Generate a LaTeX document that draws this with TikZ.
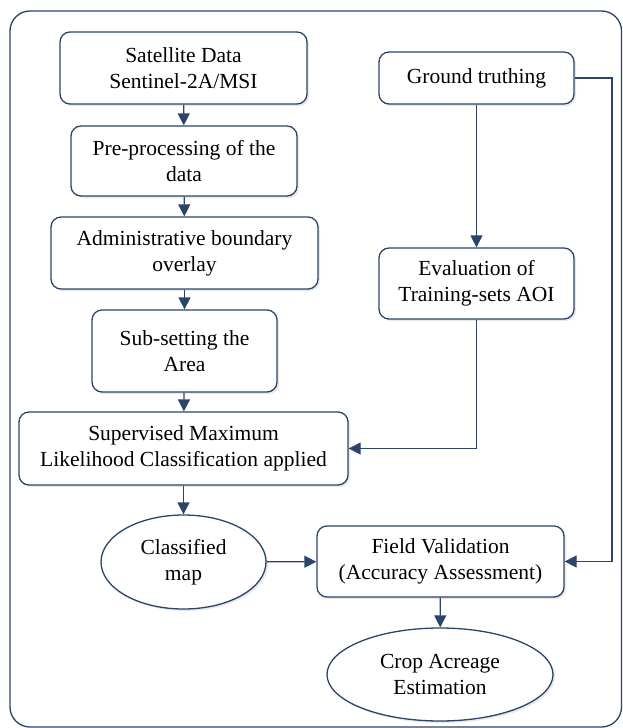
\documentclass[tikz,border=0pt]{standalone}
\usepackage{fontspec}
\setmainfont{Liberation Serif}
\usetikzlibrary{arrows.meta,shapes.geometric,shadows}
\definecolor{navy}{RGB}{44,68,104}

\begin{document}
\begin{tikzpicture}[x=1pt,y=-1pt,line width=1.3pt,
  every node/.style={font=\fontsize{21.5}{26}\selectfont, align=center, inner sep=0pt},
  stepbox/.style={draw=navy, rounded corners=10pt, fill=white,
    drop shadow={opacity=0.18, shadow xshift=2pt, shadow yshift=-2pt}},
  ovalbox/.style={draw=navy, ellipse, fill=white,
    drop shadow={opacity=0.18, shadow xshift=2pt, shadow yshift=-2pt}},
  flow/.style={draw=navy, -{Triangle[length=12pt,width=12pt]}}]
\useasboundingbox (0,0) rectangle (623,728);
\draw[navy, rounded corners=20pt] (10,11) rectangle (621.5,727);

% left column
\node[stepbox, minimum width=247pt, minimum height=72pt] (sat) at (183.5,68) {Satellite Data\\Sentinel-2A/MSI};
\node[stepbox, minimum width=226pt, minimum height=70pt] (pre) at (184,161) {Pre-processing of the\\data};
\node[stepbox, minimum width=267pt, minimum height=72pt] (adm) at (184.5,253) {Administrative boundary\\overlay};
\node[stepbox, minimum width=185pt, minimum height=82pt] (sub) at (184.5,351) {Sub-setting the\\Area};
\node[stepbox, minimum width=329pt, minimum height=73pt] (sup) at (183.5,448.5) {Supervised Maximum\\Likelihood Classification applied};
\node[ovalbox, minimum width=165pt, minimum height=94pt] (cls) at (183.5,562) {Classified\\map};

% right column
\node[stepbox, minimum width=195pt, minimum height=52pt] (gnd) at (476.5,78) {Ground truthing};
\node[stepbox, minimum width=195pt, minimum height=71pt] (eva) at (476.5,283.5) {Evaluation of\\Training-sets AOI};
\node[stepbox, minimum width=247pt, minimum height=71pt] (fld) at (440.5,561.5) {Field Validation\\(Accuracy Assessment)};
\node[ovalbox, minimum width=226pt, minimum height=93pt] (crp) at (440,674.5) {Crop Acreage\\Estimation};
\coordinate (gr) at (612,78);

\draw[flow] (sat) -- (pre);
\draw[flow] (pre) -- (adm);
\draw[flow] (adm) -- (sub);
\draw[flow] (sub) -- (sup);
\draw[flow] (sup) -- (cls);
\draw[flow] (cls) -- (fld);
\draw[flow] (fld) -- (crp);
\draw[flow] (gnd) -- (eva);
\draw[flow] (eva.south) |- (sup.east);
\draw[flow] (gnd.east) -- (gr) |- (fld.east);
\end{tikzpicture}
\end{document}
